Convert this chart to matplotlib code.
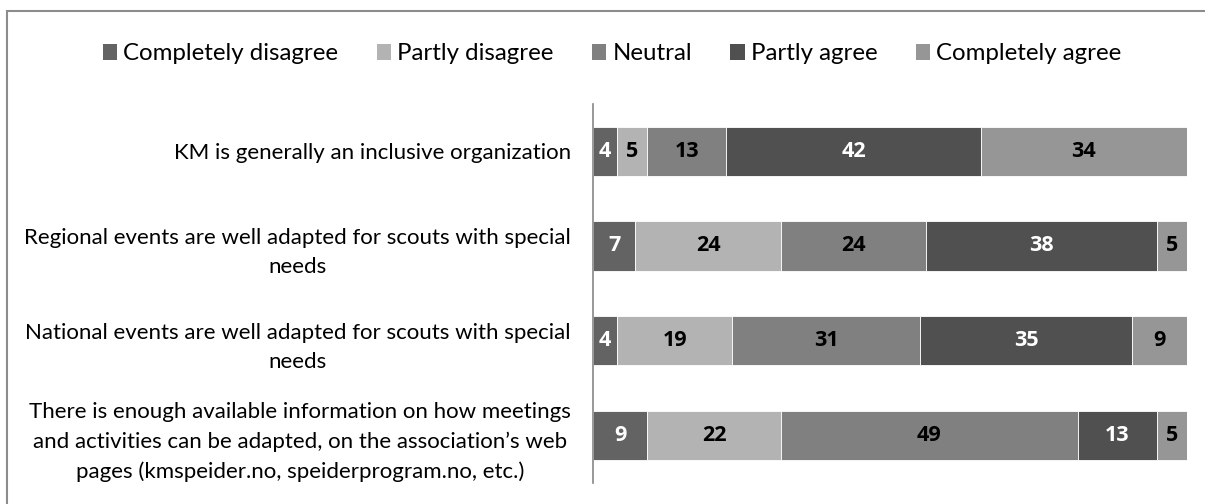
import numpy as np
import matplotlib.pyplot as plt
from matplotlib.patches import Rectangle

plt.rcParams['font.family'] = ['Lato', 'DejaVu Sans']

# Survey statements (top to bottom) and answer shares
statements = [
    "KM is generally an inclusive organization",
    "Regional events are well adapted for scouts with special\nneeds",
    "National events are well adapted for scouts with special\nneeds",
    "There is enough available information on how meetings\nand activities can be adapted, on the association\u2019s web\npages (kmspeider.no, speiderprogram.no, etc.)",
]
answers = ["Completely disagree", "Partly disagree", "Neutral", "Partly agree", "Completely agree"]
completely_disagree = [4, 7, 4, 9]
partly_disagree = [5, 24, 19, 22]
neutral = [13, 24, 31, 49]
partly_agree = [42, 38, 35, 13]
completely_agree = [34, 5, 9, 5]

colors = ['#636363', '#b3b3b3', '#808080', '#505050', '#969696']
text_colors = ['white', 'black', 'black', 'white', 'black']

series = np.array([completely_disagree, partly_disagree, neutral, partly_agree, completely_agree], dtype=float)
totals = series.sum(axis=0)
shares = series / totals * 100  # 100% stacked

fig = plt.figure(figsize=(12.05, 5.04), dpi=100)
ax = fig.add_axes([0.492, 0.042, 0.493, 0.752])

y = np.arange(len(statements))
left = np.zeros(len(statements))
for i, name in enumerate(answers):
    bars = ax.barh(y, shares[i], left=left, height=0.52, color=colors[i],
                   edgecolor='white', linewidth=0.6, label=name)
    for j, b in enumerate(bars):
        ax.text(left[j] + shares[i][j] / 2, y[j], "%d" % series[i][j],
                ha='center', va='center', color=text_colors[i],
                fontsize=15.5, fontweight='bold',
                family=['Liberation Sans Narrow', 'Open Sans', 'DejaVu Sans'])
    left += shares[i]

ax.set_xlim(0, 100)
ax.set_ylim(len(statements) - 0.5, -0.5)
ax.set_yticks(y)
ax.set_yticklabels(statements, fontsize=16, multialignment='center', linespacing=1.55)
ax.tick_params(axis='y', length=0, pad=16)
ax.set_xticks([])
for s in ['top', 'right', 'bottom']:
    ax.spines[s].set_visible(False)
ax.spines['left'].set_color('#868686')
ax.spines['left'].set_linewidth(1.2)

leg = fig.legend(loc='center', bbox_to_anchor=(0.508, 0.893), ncol=5, frameon=False,
                 fontsize=17.3, handlelength=0.6, handleheight=0.6,
                 handletextpad=0.25, columnspacing=1.6)
for h in leg.legend_handles:
    h.set_edgecolor('none')

# chart area border
fig.patches.append(Rectangle((7 / 1205, -0.1), 1.2, 1.1 - 11 / 504, transform=fig.transFigure,
                             fill=False, edgecolor='#8c8c8c', linewidth=1.5, zorder=0))

fig.savefig('out.png', dpi=100)
